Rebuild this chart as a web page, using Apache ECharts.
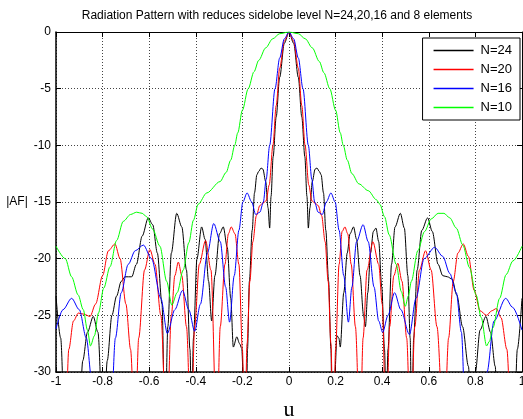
<!DOCTYPE html>
<html>
<head>
<meta charset="utf-8">
<title>Radiation Pattern</title>
<script src="https://cdn.jsdelivr.net/npm/echarts@6/dist/echarts.min.js"></script>
<style type="text/css">
    html, body { margin: 0; padding: 0; background: #fff; }
    #chart { width: 523px; height: 419px; }
</style>
</head>
<body>
<div id="chart"></div>
<script type="text/javascript">
// u positions and |AF| (dB), one pair of arrays per curve
var u24 = [-1, -0.98, -0.961, -0.93, -0.904, -0.885, -0.865, -0.84, -0.82, -0.797, -0.78, -0.76, -0.74, -0.72, -0.704, -0.675, -0.655, -0.63, -0.604, -0.585, -0.565, -0.545, -0.532, -0.52, -0.505, -0.482, -0.46, -0.44, -0.425, -0.418, -0.41, -0.395, -0.375, -0.36, -0.345, -0.332, -0.318, -0.298, -0.282, -0.265, -0.25, -0.239, -0.224, -0.212, -0.203, -0.195, -0.184, -0.178, -0.17, -0.158, -0.148, -0.138, -0.13, -0.12, -0.112, -0.1, -0.09, -0.083, -0.077, -0.068, -0.055, -0.04, -0.02, 0,
    0.02, 0.04, 0.055, 0.068, 0.077, 0.083, 0.09, 0.1, 0.112, 0.12, 0.13, 0.138, 0.148, 0.158, 0.17, 0.18, 0.186, 0.196, 0.206, 0.214, 0.22, 0.235, 0.25, 0.262, 0.277, 0.29, 0.305, 0.32, 0.328, 0.338, 0.35, 0.362, 0.373, 0.385, 0.398, 0.41, 0.417, 0.425, 0.44, 0.455, 0.478, 0.495, 0.51, 0.52, 0.527, 0.535, 0.55, 0.57, 0.595, 0.615, 0.64, 0.66, 0.68, 0.7, 0.72, 0.745, 0.77, 0.785, 0.8, 0.82, 0.845, 0.865, 0.885, 0.898, 0.93, 0.965, 0.98, 1];
var af24 = [-23.3, -27, -36, -34, -36, -29, -26.5, -25.1, -26.5, -36, -29, -25, -23.3, -22, -21.6, -21.6, -20.5, -18, -16.4, -17, -19.5, -24, -36, -26, -19.5, -16, -17.2, -21, -28, -34, -27, -20, -17.2, -18.3, -22, -25.5, -21.5, -17.8, -17.2, -19, -23.5, -27.8, -26.9, -27.5, -27.9, -31, -36, -28, -22, -17.5, -14.2, -12.6, -12.3, -12, -12.1, -13.2, -15.5, -17.3, -14.5, -11, -7.5, -4, -1, 0,
    -1, -4, -7.5, -11, -14.5, -17.3, -15.5, -13.2, -12.1, -12, -12.3, -12.6, -14.2, -17.5, -22, -28, -36, -30.5, -26.8, -27, -27.8, -23, -19.5, -17.8, -17.2, -18.3, -21.5, -25, -26, -23, -19.5, -17.6, -17.3, -18.5, -22.5, -28, -34, -28, -20.5, -17.2, -16, -17.3, -21.5, -27, -36, -27, -21, -17.5, -16.4, -17.6, -20.5, -21.5, -21.6, -21.8, -23.2, -26, -29.5, -36, -30, -26.3, -25.1, -26.5, -29.5, -36, -34, -36, -28, -23.5];

var u20 = [-1, -0.961, -0.945, -0.925, -0.904, -0.88, -0.854, -0.83, -0.8, -0.775, -0.747, -0.725, -0.7, -0.68, -0.661, -0.645, -0.62, -0.597, -0.575, -0.55, -0.525, -0.505, -0.49, -0.475, -0.46, -0.44, -0.42, -0.405, -0.385, -0.358, -0.335, -0.31, -0.295, -0.275, -0.26, -0.248, -0.232, -0.215, -0.2, -0.19, -0.18, -0.168, -0.155, -0.14, -0.125, -0.112, -0.098, -0.085, -0.069, -0.055, -0.04, -0.02, 0,
    0.02, 0.04, 0.055, 0.069, 0.085, 0.098, 0.112, 0.125, 0.14, 0.155, 0.168, 0.18, 0.19, 0.2, 0.215, 0.228, 0.24, 0.252, 0.267, 0.285, 0.305, 0.318, 0.335, 0.36, 0.385, 0.4, 0.417, 0.432, 0.45, 0.467, 0.485, 0.505, 0.522, 0.54, 0.56, 0.586, 0.61, 0.635, 0.665, 0.685, 0.705, 0.725, 0.748, 0.77, 0.795, 0.82, 0.848, 0.87, 0.89, 0.91, 0.935, 0.956, 1];
var af20 = [-35, -36, -28, -25.5, -24.8, -24.9, -25.1, -24, -21.5, -19.3, -18.7, -20, -24, -28, -36, -27, -21, -19.2, -20.5, -25, -36, -25, -21.5, -20.3, -21.5, -26, -36, -26, -20.5, -18.4, -21, -36, -26, -20.5, -17.8, -17.2, -17.8, -20.5, -28, -36, -27.5, -22, -18.5, -16.2, -15.3, -15.1, -14.9, -13.5, -10, -6.5, -3.2, -0.8, 0,
    -0.8, -3.2, -6.5, -10, -13.5, -14.9, -15.1, -15.3, -16.2, -18.5, -22, -27.5, -36, -28, -20.5, -17.6, -17.2, -17.8, -20.5, -26, -36, -27, -21, -18.5, -20.5, -24, -36, -26, -21.5, -20.4, -22, -27, -36, -26, -21, -19.3, -21, -26, -36, -27, -22, -19.5, -18.7, -19.8, -22.8, -24.6, -25, -24.6, -24.4, -25.2, -28, -36, -35];

var u16 = [-1, -0.97, -0.933, -0.9, -0.87, -0.845, -0.833, -0.8, -0.768, -0.745, -0.72, -0.69, -0.66, -0.625, -0.59, -0.55, -0.522, -0.49, -0.457, -0.43, -0.405, -0.38, -0.35, -0.323, -0.295, -0.272, -0.255, -0.235, -0.215, -0.198, -0.18, -0.16, -0.143, -0.125, -0.11, -0.098, -0.083, -0.06, -0.04, -0.02, 0,
    0.02, 0.04, 0.06, 0.083, 0.098, 0.11, 0.125, 0.143, 0.16, 0.18, 0.198, 0.215, 0.235, 0.255, 0.27, 0.29, 0.318, 0.34, 0.365, 0.385, 0.402, 0.425, 0.453, 0.48, 0.517, 0.545, 0.58, 0.625, 0.66, 0.69, 0.718, 0.74, 0.76, 0.8, 0.833, 0.85, 0.88, 0.93, 0.96, 1];
var af16 = [-26.2, -24.5, -23.5, -24.5, -27, -31, -36, -34, -36, -27, -23, -20.5, -19.3, -18.8, -20, -23.5, -26.6, -24.5, -22.8, -24.5, -26.4, -24, -19.5, -16.9, -18.5, -22.5, -25.6, -21.5, -17.5, -15, -14.2, -15, -16.1, -15.9, -15, -13, -10, -5, -2.3, -0.6, 0,
    -0.6, -2.3, -5, -10, -13, -15, -15.9, -16.1, -15, -14.2, -15, -17.5, -21.5, -25.6, -22.5, -18.5, -17, -18.5, -22.5, -25.5, -26.5, -25, -23, -24.5, -26.7, -23.5, -20, -19, -19.8, -21.3, -23, -26.5, -36, -34, -36, -30, -25.5, -23.5, -24.3, -26.3];

var u10 = [-1, -0.96, -0.933, -0.905, -0.883, -0.865, -0.852, -0.835, -0.818, -0.795, -0.768, -0.74, -0.711, -0.68, -0.654, -0.63, -0.611, -0.585, -0.554, -0.525, -0.503, -0.48, -0.454, -0.43, -0.41, -0.39, -0.353, -0.296, -0.27, -0.25, -0.233, -0.22, -0.2, -0.175, -0.15, -0.13, -0.1, -0.07, -0.04, 0,
    0.04, 0.07, 0.1, 0.13, 0.15, 0.175, 0.2, 0.22, 0.233, 0.25, 0.27, 0.3, 0.34, 0.375, 0.39, 0.41, 0.43, 0.46, 0.482, 0.499, 0.512, 0.525, 0.553, 0.582, 0.61, 0.64, 0.665, 0.69, 0.718, 0.746, 0.775, 0.803, 0.825, 0.848, 0.86, 0.875, 0.904, 0.932, 0.961, 1];
var af10 = [-18.9, -20, -21.6, -23.2, -24.5, -26.3, -27.7, -26.8, -24.8, -22.6, -20.7, -18.4, -16.7, -16.1, -15.9, -16, -16.3, -17.4, -18.9, -22, -24.1, -23, -21, -18.6, -16.6, -15.2, -14.2, -13.2, -12.4, -11.3, -10, -8.9, -6.9, -5, -3.5, -2.5, -1.4, -0.6, -0.15, 0,
    -0.15, -0.6, -1.4, -2.6, -3.6, -5, -6.9, -8.9, -10, -11.3, -12.5, -13.4, -14, -14.8, -15.2, -16.3, -17.9, -20.5, -22.9, -24.2, -23.3, -22, -19.3, -17.6, -16.5, -16, -16, -16.4, -17.3, -18.8, -20.8, -23.2, -25.2, -27.7, -27.3, -26.1, -23.5, -21.4, -20.2, -18.9];

var names = ['N=24', 'N=20', 'N=16', 'N=10'];
var colors = ['#000000', '#ff0000', '#0000ff', '#00ff00'];

function pairs(us, vs) {
    var out = [];
    for (var i = 0; i < us.length; i++) out.push([us[i], vs[i]]);
    return out;
}

var chart = echarts.init(document.getElementById('chart'), null, { renderer: 'canvas' });

var font = 'Liberation Sans, Arial, sans-serif';
var frameAxis = {
    axisLine: { show: true, onZero: false, lineStyle: { color: '#000', width: 1 } },
    axisTick: { show: true, inside: true, length: 5, lineStyle: { color: '#000' } },
    axisLabel: { show: false },
    splitLine: { show: false }
};

var option = {
    animation: false,
    backgroundColor: '#fff',
    title: {
        text: 'Radiation Pattern with reduces sidelobe level N=24,20,16 and 8 elements',
        left: 272, top: 5, textAlign: 'center',
        textStyle: { fontFamily: font, fontSize: 12, fontWeight: 'normal', color: '#000' }
    },
    legend: {
        data: names.map(function (n) { return { name: n, icon: 'rect' }; }),
        orient: 'vertical',
        right: 3, top: 38,
        itemWidth: 40, itemHeight: 1.5, itemGap: 4,
        padding: [5, 8, 5, 11],
        backgroundColor: '#fff',
        borderColor: '#000', borderWidth: 1,
        textStyle: { fontFamily: font, fontSize: 13, color: '#000', lineHeight: 15, padding: [0, 0, 0, 2] }
    },
    grid: { left: 56, right: 1, top: 32, bottom: 47, show: false, containLabel: false, outerBoundsMode: 'none' },
    xAxis: [{
        type: 'value', min: -1, max: 1, interval: 0.2,
        name: 'u', nameLocation: 'middle', nameGap: 27,
        nameTextStyle: { fontFamily: 'Liberation Serif, Times New Roman, serif', fontSize: 22, color: '#000' },
        axisLine: { show: true, onZero: false, lineStyle: { color: '#000', width: 1.5 } },
        axisTick: { show: true, inside: true, length: 5, lineStyle: { color: '#000' } },
        axisLabel: { fontFamily: font, fontSize: 12, color: '#000', margin: 4,
            formatter: function (v) { return String(Math.round(v * 10) / 10); } },
        splitLine: { show: true, lineStyle: { color: '#444', type: [1, 2], width: 1 } }
    }, Object.assign({ type: 'value', min: -1, max: 1, interval: 0.2, position: 'top' }, frameAxis)],
    yAxis: [{
        type: 'value', min: -30, max: 0, interval: 5,
        name: '|AF|', nameLocation: 'middle', nameGap: 22, nameRotate: 0,
        nameTextStyle: { fontFamily: font, fontSize: 12, color: '#000', padding: [0, 0, 24, 0] },
        axisLine: { show: true, onZero: false, lineStyle: { color: '#000', width: 1.5 } },
        axisTick: { show: true, inside: true, length: 5, lineStyle: { color: '#000' } },
        axisLabel: { fontFamily: font, fontSize: 12, color: '#000', margin: 5 },
        splitLine: { show: true, lineStyle: { color: '#444', type: [1, 2], width: 1 } }
    }, Object.assign({ type: 'value', min: -30, max: 0, interval: 5, position: 'right' }, frameAxis)],
    series: [
        { name: 'N=24', data: pairs(u24, af24) },
        { name: 'N=20', data: pairs(u20, af20) },
        { name: 'N=16', data: pairs(u16, af16) },
        { name: 'N=10', data: pairs(u10, af10) }
    ].map(function (s, i) {
        return {
            name: s.name, type: 'line', data: s.data,
            xAxisIndex: 0, yAxisIndex: 0,
            symbol: 'none', smooth: 0.3, smoothMonotone: 'x', clip: true,
            color: colors[i],
            lineStyle: { color: colors[i], width: 1 }
        };
    })
};

chart.setOption(option);
</script>
</body>
</html>
